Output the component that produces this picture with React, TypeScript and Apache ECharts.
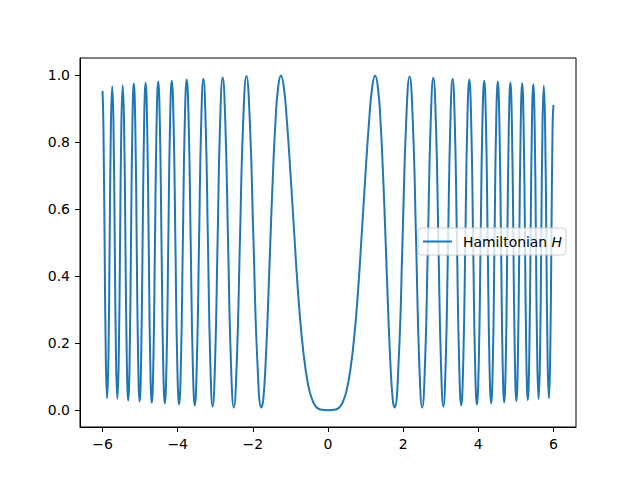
import React, { useEffect, useRef } from "react";
import * as echarts from "echarts";

// x positions (left half, centre, right half)
const xValues: number[] = [
  -6.0, -5.978, -5.945, -5.912, -5.879, -5.845, -5.811, -5.777,
  -5.743, -5.709, -5.675, -5.64, -5.605, -5.57, -5.534, -5.499,
  -5.463, -5.427, -5.391, -5.354, -5.317, -5.28, -5.243, -5.205,
  -5.168, -5.129, -5.091, -5.052, -5.013, -4.974, -4.934, -4.894,
  -4.854, -4.813, -4.772, -4.731, -4.689, -4.647, -4.605, -4.562,
  -4.519, -4.475, -4.431, -4.387, -4.342, -4.296, -4.25, -4.204,
  -4.157, -4.109, -4.061, -4.013, -3.963, -3.913, -3.863, -3.812,
  -3.76, -3.707, -3.654, -3.6, -3.545, -3.489, -3.432, -3.375,
  -3.316, -3.256, -3.195, -3.133, -3.07, -3.005, -2.939, -2.872,
  -2.803, -2.732, -2.659, -2.584, -2.507, -2.427, -2.345, -2.259,
  -2.171, -2.078, -1.982, -1.88, -1.772, -1.72, -1.658, -1.6,
  -1.535, -1.47, -1.401, -1.33, -1.253, -1.175, -1.1, -1.0,
  -0.9, -0.8, -0.7, -0.6, -0.5, -0.4, -0.3, -0.2,
  0,
  0.2, 0.3, 0.4, 0.5, 0.6, 0.7, 0.8, 0.9,
  1.0, 1.1, 1.175, 1.253, 1.33, 1.401, 1.47, 1.535,
  1.6, 1.658, 1.72, 1.772, 1.88, 1.982, 2.078, 2.171,
  2.259, 2.345, 2.427, 2.507, 2.584, 2.659, 2.732, 2.803,
  2.872, 2.939, 3.005, 3.07, 3.133, 3.195, 3.256, 3.316,
  3.375, 3.432, 3.489, 3.545, 3.6, 3.654, 3.707, 3.76,
  3.812, 3.863, 3.913, 3.963, 4.013, 4.061, 4.109, 4.157,
  4.204, 4.25, 4.296, 4.342, 4.387, 4.431, 4.475, 4.519,
  4.562, 4.605, 4.647, 4.689, 4.731, 4.772, 4.813, 4.854,
  4.894, 4.934, 4.974, 5.013, 5.052, 5.091, 5.129, 5.168,
  5.205, 5.243, 5.28, 5.317, 5.354, 5.391, 5.427, 5.463,
  5.499, 5.534, 5.57, 5.605, 5.64, 5.675, 5.709, 5.743,
  5.777, 5.811, 5.845, 5.879, 5.912, 5.945, 5.978, 6.0,
];

// Hamiltonian values, one per x position
const hValues: number[] = [
  0.952, 0.854, 0.5, 0.146, 0.035, 0.146, 0.5, 0.854,
  0.966, 0.854, 0.5, 0.146, 0.034, 0.146, 0.5, 0.854,
  0.969, 0.854, 0.5, 0.146, 0.029, 0.146, 0.5, 0.854,
  0.974, 0.854, 0.5, 0.146, 0.026, 0.146, 0.5, 0.854,
  0.976, 0.854, 0.5, 0.146, 0.022, 0.146, 0.5, 0.854,
  0.98, 0.854, 0.5, 0.146, 0.02, 0.146, 0.5, 0.854,
  0.982, 0.854, 0.5, 0.146, 0.017, 0.146, 0.5, 0.854,
  0.986, 0.854, 0.5, 0.146, 0.014, 0.146, 0.5, 0.854,
  0.988, 0.854, 0.5, 0.146, 0.011, 0.146, 0.5, 0.854,
  0.992, 0.854, 0.5, 0.146, 0.008, 0.146, 0.5, 0.854,
  0.996, 0.854, 0.5, 0.146, 0.008, 0.035, 0.146, 0.3,
  0.5, 0.69, 0.854, 0.96, 0.998, 0.962, 0.872, 0.708,
  0.529, 0.356, 0.22, 0.125, 0.061, 0.026, 0.008, 0.002,
  0,
  0.002, 0.008, 0.026, 0.061, 0.125, 0.22, 0.356, 0.529,
  0.708, 0.872, 0.962, 0.998, 0.96, 0.854, 0.69, 0.5,
  0.3, 0.146, 0.035, 0.008, 0.146, 0.5, 0.854, 0.995,
  0.854, 0.5, 0.146, 0.008, 0.146, 0.5, 0.854, 0.991,
  0.854, 0.5, 0.146, 0.011, 0.146, 0.5, 0.854, 0.988,
  0.854, 0.5, 0.146, 0.014, 0.146, 0.5, 0.854, 0.986,
  0.854, 0.5, 0.146, 0.017, 0.146, 0.5, 0.854, 0.982,
  0.854, 0.5, 0.146, 0.02, 0.146, 0.5, 0.854, 0.98,
  0.854, 0.5, 0.146, 0.023, 0.146, 0.5, 0.854, 0.977,
  0.854, 0.5, 0.146, 0.027, 0.146, 0.5, 0.854, 0.975,
  0.854, 0.5, 0.146, 0.03, 0.146, 0.5, 0.854, 0.972,
  0.854, 0.5, 0.146, 0.033, 0.146, 0.5, 0.854, 0.968,
  0.854, 0.5, 0.146, 0.035, 0.146, 0.5, 0.854, 0.91,
];

const xTicks: number[] = [-6, -4, -2, 0, 2, 4, 6];
const yTicks: number[] = [0, 0.2, 0.4, 0.6, 0.8, 1.0];
const seriesName = "Hamiltonian H";

const FONT = "DejaVu Sans";

export default function App() {
  const ref = useRef<HTMLDivElement>(null);
  useEffect(() => {
    if (!ref.current) return;
    const chart = echarts.init(ref.current, undefined, { renderer: "svg" });
    const data = xValues.map((x, i) => [x, hValues[i]]);
    chart.setOption({
      animation: false,
      backgroundColor: "#ffffff",
      grid: {
        left: 80,
        right: 64,
        top: 58,
        bottom: 53,
        show: true,
        borderColor: "#000",
        borderWidth: 1,
        backgroundColor: "transparent",
      },
      legend: {
        data: [{ name: seriesName, icon: "rect" }],
        left: 418,
        top: 228,
        padding: [5, 4, 5, 5],
        itemWidth: 29,
        itemHeight: 2,
        backgroundColor: "rgba(255,255,255,0.8)",
        borderColor: "#cccccc",
        borderWidth: 1,
        borderRadius: 3,
        formatter: () => "{g|}{n|Hamiltonian }{i|H}",
        textStyle: {
          fontFamily: FONT,
          fontSize: 13.9,
          color: "#000",
          lineHeight: 17,
          rich: {
            g: { width: 6, fontFamily: FONT, fontSize: 13.9 },
            n: { fontFamily: FONT, fontSize: 13.9, color: "#000" },
            i: { fontFamily: FONT, fontSize: 13.9, fontStyle: "italic", color: "#000" },
          },
        },
      },
      xAxis: {
        type: "value",
        min: -6.6,
        max: 6.6,
        splitLine: { show: false },
        axisLine: { show: true, onZero: false, lineStyle: { color: "#000", width: 1 } },
        axisTick: {
          show: true,
          length: 5,
          customValues: xTicks,
          lineStyle: { color: "#000", width: 1 },
        },
        axisLabel: {
          customValues: xTicks,
          margin: 10,
          fontFamily: FONT,
          fontSize: 14,
          color: "#000",
          formatter: (v: number) => (v < 0 ? "\u2212" + Math.abs(v) : String(v)),
        },
      },
      yAxis: {
        type: "value",
        min: -0.05,
        max: 1.05,
        splitLine: { show: false },
        axisLine: { show: true, onZero: false, lineStyle: { color: "#000", width: 1 } },
        axisTick: {
          show: true,
          length: 5,
          customValues: yTicks,
          lineStyle: { color: "#000", width: 1 },
        },
        axisLabel: {
          customValues: yTicks,
          margin: 10,
          fontFamily: FONT,
          fontSize: 14,
          color: "#000",
          formatter: (v: number) => v.toFixed(1),
        },
      },
      series: [
        {
          name: seriesName,
          type: "line",
          data,
          smooth: 0.5,
          symbol: "none",
          showSymbol: false,
          lineStyle: { color: "#1f77b4", width: 2 },
          itemStyle: { color: "#1f77b4" },
        },
      ],
    });
    return () => chart.dispose();
  }, []);
  return (
    <div
      ref={ref}
      style={{ position: "fixed", left: 0, top: 0, width: 640, height: 480 }}
    />
  );
}
